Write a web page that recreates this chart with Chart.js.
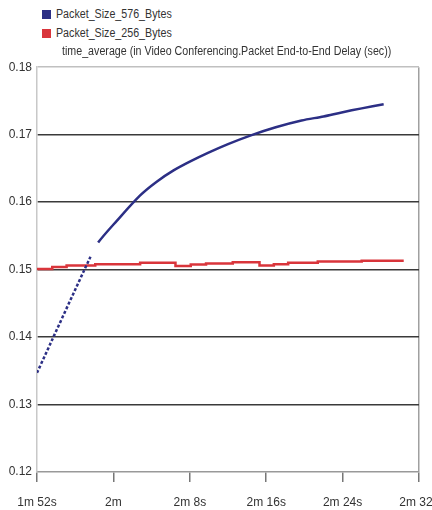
<!DOCTYPE html>
<html>
<head>
<meta charset="utf-8">
<script src="https://cdn.jsdelivr.net/npm/chart.js@4.4.1/dist/chart.umd.min.js"></script>
<style>
  body { margin: 0; background: #fff; overflow: hidden; }
  #wrap { position: relative; width: 432px; height: 510px; }
  #legend { position: absolute; left: 0; top: 0; width: 432px; height: 55px;
    font: 12px "Liberation Sans", Arial, sans-serif; color: #333; z-index: 1; }
  .item { position: absolute; left: 42px; height: 14px; line-height: 14px; white-space: nowrap; }
  .item span.box { display: inline-block; width: 9px; height: 9px; margin-right: 5px; vertical-align: -1px; }
  .item span.txt { display: inline-block; transform: scaleX(0.89); transform-origin: left center; }
  #sub { position: absolute; left: 62px; top: 44px; line-height: 14px; white-space: nowrap;
    transform: scaleX(0.89); transform-origin: left center; }
  #box { position: absolute; left: 0; top: 55px; width: 432px; height: 455px; }
</style>
</head>
<body>
<div id="wrap">
  <div id="legend"></div>
  <div id="box"><canvas id="delayChart"></canvas></div>
</div>
<script>
const seriesNames = ['Packet_Size_576_Bytes', 'Packet_Size_256_Bytes'];
const seriesColors = ['#2c2f85', '#d9353b'];
const subTitle = 'time_average (in Video Conferencing.Packet End-to-End Delay (sec))';

// seconds since start of run
const timeBlue = [112, 117.6, 118.4, 120.4, 122.8, 124.5, 126.3, 128, 129.9, 132, 134.4, 137, 139.7, 142, 143.9, 146, 148.3];
const delayBlue = [0.1347, 0.1519, 0.1540, 0.1573, 0.1610, 0.1630, 0.1647, 0.1660, 0.1673, 0.1686, 0.1699, 0.1711, 0.1721, 0.1727, 0.1733, 0.1739, 0.1745];

const timeRed = [112, 113.6, 115.1, 118.1, 122.8, 126.5, 128.1, 129.7, 132.5, 135.3, 136.8, 138.3, 141.4, 146, 150.4];
const delayRed = [0.1501, 0.1504, 0.1506, 0.1508, 0.1510, 0.15055, 0.15075, 0.1509, 0.1511, 0.1506, 0.1508, 0.1510, 0.1512, 0.1513, 0.1513];

const tickSeconds = [112, 120, 128, 136, 144, 152];
const tickLabels = ['1m 52s', '2m', '2m 8s', '2m 16s', '2m 24s', '2m 32s'];

const legend = document.getElementById('legend');
seriesNames.forEach((n, i) => {
    const d = document.createElement('div');
    d.className = 'item';
    d.style.top = (7 + i * 19) + 'px';
    d.innerHTML = '<span class="box" style="background:' + seriesColors[i] + '"></span><span class="txt">' + n + '</span>';
    legend.appendChild(d);
});
const sub = document.createElement('div');
sub.id = 'sub';
sub.textContent = subTitle;
legend.appendChild(sub);

const font = { family: '"Liberation Sans", Arial, sans-serif', size: 12 };

new Chart(document.getElementById('delayChart').getContext('2d'), {
    type: 'line',
    data: {
        datasets: [{
            label: seriesNames[0],
            data: timeBlue.map((t, i) => ({ x: t, y: delayBlue[i] })),
            borderColor: seriesColors[0],
            borderWidth: 2.5,
            pointRadius: 0,
            tension: 0.3,
            segment: {
                borderDash: ctx => ctx.p1.parsed.x <= 117.6 ? [3, 2] : undefined,
                borderColor: ctx => ctx.p0.parsed.x === 117.6 ? 'transparent' : undefined
            }
        }, {
            label: seriesNames[1],
            data: timeRed.map((t, i) => ({ x: t, y: delayRed[i] })),
            borderColor: seriesColors[1],
            borderWidth: 2.5,
            pointRadius: 0,
            stepped: true
        }]
    },
    options: {
        responsive: true,
        maintainAspectRatio: false,
        animation: false,
        layout: { padding: { top: 3, right: 13, left: 0, bottom: 0 } },
        plugins: { legend: { display: false }, tooltip: { enabled: false } },
        scales: {
            x: {
                type: 'linear',
                min: 112,
                max: 152,
                afterBuildTicks: scale => { scale.ticks = tickSeconds.map(v => ({ value: v })); },
                afterFit: scale => { scale.height = 38; scale.paddingRight = 0; },
                ticks: {
                    callback: v => tickLabels[tickSeconds.indexOf(v)],
                    maxRotation: 0,
                    autoSkip: false,
                    padding: 13,
                    color: '#333',
                    font: font
                },
                grid: {
                    color: ctx => ctx.index === tickSeconds.length - 1 ? '#a0a0a0' : 'transparent',
                    tickColor: '#777',
                    tickLength: 10,
                    lineWidth: 1.5
                },
                border: { color: '#999', width: 1.5 }
            },
            y: {
                min: 0.12,
                max: 0.18,
                afterFit: scale => { scale.width = 37; },
                ticks: {
                    stepSize: 0.01,
                    callback: v => v.toFixed(2),
                    color: '#333',
                    padding: 5,
                    font: font
                },
                grid: {
                    drawTicks: false,
                    color: ctx => ctx.tick.value > 0.1795 ? '#c0c0c0' : (ctx.tick.value < 0.1205 ? 'transparent' : '#3a3a3a'),
                    lineWidth: 1.5
                },
                border: { color: '#c8c8c8', width: 1.5 }
            }
        }
    }
});
</script>
</body>
</html>
